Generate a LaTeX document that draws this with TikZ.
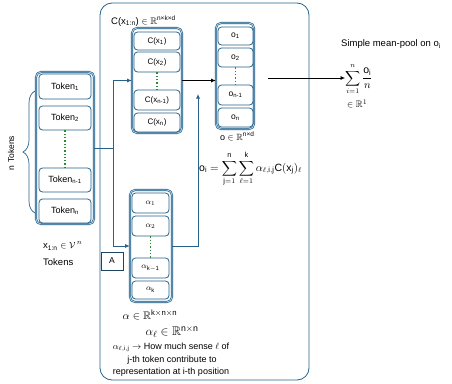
\documentclass[tikz,border=0pt]{standalone}
\usepackage{fontspec}
\setmainfont{Liberation Sans}
\usepackage{amsmath,amssymb}
\usetikzlibrary{arrows.meta,decorations.pathreplacing,calc}
\definecolor{bb}{RGB}{38,98,138}
\definecolor{lb}{RGB}{170,205,228}
\definecolor{dg}{RGB}{40,140,50}
\newcommand\myfs[1]{\fontsize{#1}{#1}\selectfont}
\begin{document}
\begin{tikzpicture}[x=1pt,y=-1pt,
  colbox/.style={draw=bb,double=lb,double distance=0.9pt,line width=0.6pt,rounded corners=5pt,minimum width=#1},
  cell/.style={draw=bb,line width=0.8pt,rounded corners=3.5pt,fill=white,inner sep=0pt},
  dots/.style={dg,line width=1.3pt,dotted},
  conn/.style={bb,line width=0.8pt},
  arr/.style={conn,-{Latex[length=4.5pt,width=4pt]}},
  blk/.style={black,line width=0.7pt,-{Latex[length=4.5pt,width=4pt]}},
  txt/.style={inner sep=0pt,font=\myfs{8.5}}]
\useasboundingbox (0,0) rectangle (452,383);
% big container
\node[draw=bb,line width=0.8pt,rounded corners=12pt,minimum width=209pt,minimum height=377pt,inner sep=0pt] (big) at (204.5,191.5) {};

% token column
\node[colbox=58pt,minimum height=152pt] (tokcol) at (65,148) {};
\node[cell,minimum width=52pt,minimum height=25pt,font=\myfs{9}] (t1) at (65,86.5) {Token\textsubscript{1}};
\node[cell,minimum width=52pt,minimum height=24pt,font=\myfs{9}] (t2) at (65,118) {Token\textsubscript{2}};
\node[cell,minimum width=52pt,minimum height=24pt,font=\myfs{9}] (t3) at (65,180) {Token\textsubscript{n-1}};
\node[cell,minimum width=52pt,minimum height=24pt,font=\myfs{9}] (t4) at (65,211) {Token\textsubscript{n}};
\draw[dots] (t2.south) -- (t3.north);
\draw[bb,line width=0.7pt,decorate,decoration={brace,amplitude=12pt}] (35,213) -- (35,91);
\node[txt,rotate=90,font=\myfs{8.5}] (ntok) at (11,153) {n Tokens};
\node[txt,anchor=west,font=\myfs{9.5}] (xlab) at (43,246) {x\textsubscript{1:n} $\in \mathcal{V}^{\,n}$};
\node[txt,anchor=west,font=\myfs{9.5}] (toklab) at (43,262) {Tokens};

% C column
\node[colbox=50pt,minimum height=105pt] (ccol) at (157,80.5) {};
\node[cell,minimum width=46pt,minimum height=18pt,font=\myfs{8}] (c1) at (157,41) {C(x\textsubscript{1})};
\node[cell,minimum width=46pt,minimum height=20pt,font=\myfs{8}] (c2) at (157,62) {C(x\textsubscript{2})};
\node[cell,minimum width=46pt,minimum height=20pt,font=\myfs{8}] (c3) at (157,100) {C(x\textsubscript{n-1})};
\node[cell,minimum width=46pt,minimum height=19pt,font=\myfs{8}] (c4) at (157,122.5) {C(x\textsubscript{n})};
\draw[dots] (c2.south) -- (c3.north);
\node[txt,anchor=west,font=\myfs{9.5}] (clab) at (111,21) {C(x\textsubscript{1:n}) $\in \mathbb{R}^{\textrm{\myfs{6.5}n×k×d}}$};

% o column
\node[colbox=38pt,minimum height=106pt] (ocol) at (235,76) {};
\node[cell,minimum width=35pt,minimum height=18pt,font=\myfs{8.5}] (o1) at (235.5,36) {o\textsubscript{1}};
\node[cell,minimum width=35pt,minimum height=19pt,font=\myfs{8.5}] (o2) at (235.5,57.5) {o\textsubscript{2}};
\node[cell,minimum width=35pt,minimum height=20pt,font=\myfs{8.5}] (o3) at (235.5,95) {o\textsubscript{n-1}};
\node[cell,minimum width=35pt,minimum height=19pt,font=\myfs{8.5}] (o4) at (235.5,117.5) {o\textsubscript{n}};
\draw[dots] (o2.south) -- (o3.north);
\node[txt,anchor=west,font=\myfs{9}] (olab) at (220,136) {o $\in \mathbb{R}^{\textrm{\myfs{6.5}n×d}}$};
\node[txt,anchor=west,font=\myfs{10.5}] (oform) at (199,169) {$\displaystyle \mathrm{o_i}=\sum_{\mathrm{j}=1}^{\mathrm{n}}\sum_{\ell=1}^{\mathrm{k}}\alpha_{\ell,\mathrm{i,j}}\mathrm{C}(\mathrm{x_j})_{\ell}$};

% alpha column
\node[colbox=42pt,minimum height=112pt] (acol) at (151,246) {};
\node[cell,minimum width=37pt,minimum height=20pt,font=\myfs{8.5}] (a1) at (150.5,203) {$\alpha_1$};
\node[cell,minimum width=37pt,minimum height=20pt,font=\myfs{8.5}] (a2) at (150.5,226) {$\alpha_2$};
\node[cell,minimum width=37pt,minimum height=20pt,font=\myfs{8.5}] (a3) at (150.5,268) {$\alpha_{\mathrm{k-1}}$};
\node[cell,minimum width=37pt,minimum height=18pt,font=\myfs{8.5}] (a4) at (150.5,290) {$\alpha_{\mathrm{k}}$};
\draw[dots] (a2.south) -- (a3.north);
\node[draw=bb!70!black,line width=0.6pt,minimum width=22pt,minimum height=18pt,inner sep=0pt,font=\myfs{8.5}] (abox) at (112,261) {A};

\node[txt,font=\myfs{11}] (al1) at (150,315) {$\alpha\in\mathbb{R}^{\mathrm{k\times n\times n}}$};
\node[txt,font=\myfs{12.5}] (al2) at (172,332) {$\alpha_{\ell}\in\mathbb{R}^{\mathrm{n\times n}}$};
\node[txt,font=\myfs{9}] (al3) at (171,347) {$\alpha_{\ell,\mathrm{i,j}}\rightarrow$ How much sense $\ell$ of};
\node[txt,font=\myfs{9}] (al4) at (172,360) {j-th token contribute to};
\node[txt,font=\myfs{9}] (al5) at (171,372) {representation at i-th position};

% mean pool
\node[txt,font=\myfs{9.5}] (mptitle) at (391,44) {Simple mean-pool on o\textsubscript{i}};
\node[txt,anchor=west,font=\myfs{10.5}] (pool) at (345,79) {$\displaystyle\sum_{i=1}^{n}\frac{\mathrm{o_i}}{n}$};
\node[txt,anchor=west,font=\myfs{9.5}] (pooldim) at (347,104) {$\in\mathbb{R}^{1}$};

% connectors
\coordinate (split) at (113,148);
\draw[conn] (tokcol.east) -- (split);
\draw[arr] (split) |- (ccol.west);
\draw[arr] (split) |- (acol.west);
\draw[blk] (ccol.east) -- (ccol.east -| ocol.west);
\coordinate (oout) at (268,78);
\draw[blk] (oout) -- (pool.west |- oout);
\coordinate (oup) at (198,94);
\draw[arr] (acol.east) -| (oup);
\end{tikzpicture}
\end{document}
